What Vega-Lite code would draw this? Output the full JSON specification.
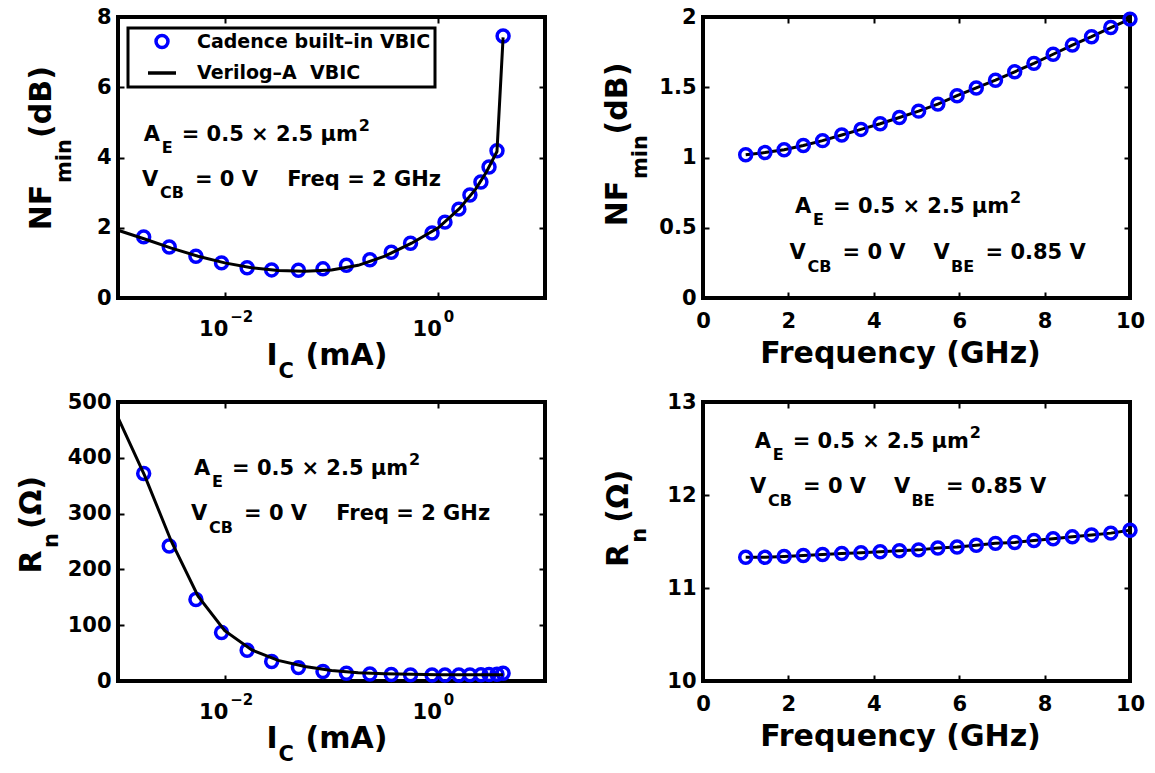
{
  "$schema": "https://vega.github.io/schema/vega-lite/v6.json",
  "autosize": {"type": "none"},
  "padding": {"left": 118, "top": 17, "right": 1037, "bottom": 756},
  "background": "white",
  "columns": 2,
  "spacing": {"row": 104, "column": 158},
  "bounds": "flush",
  "config": {
    "view": {"stroke": "#000000", "strokeWidth": 4},
    "axis": {
      "grid": false, "domain": false,
      "labelFont": "DejaVu Sans", "labelFontWeight": "bold", "labelFontSize": 21, "labelColor": "#000000",
      "titleFont": "DejaVu Sans", "titleFontWeight": "bold", "titleFontSize": 30, "titleColor": "#000000",
      "tickColor": "#000000", "tickWidth": 2, "tickSize": -6,
      "titleBaseline": "alphabetic", "labelFlush": false, "labelOverlap": false
    },
    "axisX": {"labelPadding": 18, "titleAngle": 0},
    "axisY": {"labelPadding": 13, "titleAngle": 270, "titleAlign": "center"},
    "legend": {"strokeWidth": 3}
  },
  "concat": [
    {
      "width": 427, "height": 281,
      "data": {"values": [
        {"Ic": 0.00174, "NF": 1.74, "series": "Cadence built–in VBIC"},
        {"Ic": 0.00302, "NF": 1.45, "series": "Cadence built–in VBIC"},
        {"Ic": 0.00537, "NF": 1.19, "series": "Cadence built–in VBIC"},
        {"Ic": 0.00933, "NF": 1.00, "series": "Cadence built–in VBIC"},
        {"Ic": 0.0162, "NF": 0.86, "series": "Cadence built–in VBIC"},
        {"Ic": 0.0275, "NF": 0.80, "series": "Cadence built–in VBIC"},
        {"Ic": 0.049, "NF": 0.79, "series": "Cadence built–in VBIC"},
        {"Ic": 0.0832, "NF": 0.83, "series": "Cadence built–in VBIC"},
        {"Ic": 0.138, "NF": 0.93, "series": "Cadence built–in VBIC"},
        {"Ic": 0.229, "NF": 1.09, "series": "Cadence built–in VBIC"},
        {"Ic": 0.363, "NF": 1.30, "series": "Cadence built–in VBIC"},
        {"Ic": 0.55, "NF": 1.56, "series": "Cadence built–in VBIC"},
        {"Ic": 0.875, "NF": 1.85, "series": "Cadence built–in VBIC"},
        {"Ic": 1.156, "NF": 2.16, "series": "Cadence built–in VBIC"},
        {"Ic": 1.56, "NF": 2.53, "series": "Cadence built–in VBIC"},
        {"Ic": 1.98, "NF": 2.93, "series": "Cadence built–in VBIC"},
        {"Ic": 2.51, "NF": 3.30, "series": "Cadence built–in VBIC"},
        {"Ic": 2.99, "NF": 3.73, "series": "Cadence built–in VBIC"},
        {"Ic": 3.55, "NF": 4.19, "series": "Cadence built–in VBIC"},
        {"Ic": 4.05, "NF": 7.46, "series": "Cadence built–in VBIC"},
        {"Ic": 0.001, "NF": 1.93, "series": "Verilog–A\u00a0\u00a0VBIC"},
        {"Ic": 0.001778, "NF": 1.68, "series": "Verilog–A\u00a0\u00a0VBIC"},
        {"Ic": 0.003162, "NF": 1.42, "series": "Verilog–A\u00a0\u00a0VBIC"},
        {"Ic": 0.005623, "NF": 1.19, "series": "Verilog–A\u00a0\u00a0VBIC"},
        {"Ic": 0.01, "NF": 1.00, "series": "Verilog–A\u00a0\u00a0VBIC"},
        {"Ic": 0.01778, "NF": 0.86, "series": "Verilog–A\u00a0\u00a0VBIC"},
        {"Ic": 0.03162, "NF": 0.78, "series": "Verilog–A\u00a0\u00a0VBIC"},
        {"Ic": 0.05623, "NF": 0.76, "series": "Verilog–A\u00a0\u00a0VBIC"},
        {"Ic": 0.1, "NF": 0.80, "series": "Verilog–A\u00a0\u00a0VBIC"},
        {"Ic": 0.1778, "NF": 0.93, "series": "Verilog–A\u00a0\u00a0VBIC"},
        {"Ic": 0.3162, "NF": 1.19, "series": "Verilog–A\u00a0\u00a0VBIC"},
        {"Ic": 0.5623, "NF": 1.56, "series": "Verilog–A\u00a0\u00a0VBIC"},
        {"Ic": 1.0, "NF": 2.00, "series": "Verilog–A\u00a0\u00a0VBIC"},
        {"Ic": 1.585, "NF": 2.55, "series": "Verilog–A\u00a0\u00a0VBIC"},
        {"Ic": 2.239, "NF": 3.10, "series": "Verilog–A\u00a0\u00a0VBIC"},
        {"Ic": 2.818, "NF": 3.58, "series": "Verilog–A\u00a0\u00a0VBIC"},
        {"Ic": 3.548, "NF": 4.17, "series": "Verilog–A\u00a0\u00a0VBIC"},
        {"Ic": 4.05, "NF": 7.42, "series": "Verilog–A\u00a0\u00a0VBIC"}
      ]},
      "resolve": {"axis": {"x": "independent", "y": "independent"}},
      "layer": [
        {
          "transform": [{"filter": {"field": "series", "equal": "Cadence built–in VBIC"}}],
          "mark": {"type": "point", "filled": false, "strokeWidth": 3.5, "opacity": 1},
          "encoding": {
            "x": {"field": "Ic", "type": "quantitative", "scale": {"type": "log", "domain": [0.001, 10]},
                  "axis": {"orient": "bottom", "values": [0.01, 1], "labelExpr": "'10'", "labelAlign": "right", "labelOffset": 3, "labelPadding": 26,
                           "title": "I", "titleX": 148, "titleY": 66, "titleAlign": "left"}},
            "y": {"field": "NF", "type": "quantitative", "scale": {"domain": [0, 8], "nice": false},
                  "axis": {"orient": "left", "values": [0, 2, 4, 6, 8], "title": "NF", "titleX": -68, "titleY": 190}},
            "color": {"field": "series", "type": "nominal",
                      "scale": {"domain": ["Cadence built–in VBIC", "Verilog–A\u00a0\u00a0VBIC"], "range": ["#0000ff", "#000000"]},
                      "legend": {"title": null, "orient": "none", "legendX": 10, "legendY": 11, "padding": 4, "symbolOffset": 14, "labelOffset": 19, "rowPadding": 2, "labelLimit": 500,
                                 "strokeColor": "#000000", "fillColor": "#ffffff", "labelFont": "DejaVu Sans", "labelFontWeight": "bold", "labelFontSize": 19, "labelColor": "#000000", "symbolStrokeWidth": 3.5}},
            "shape": {"field": "series", "type": "nominal",
                      "scale": {"domain": ["Cadence built–in VBIC", "Verilog–A\u00a0\u00a0VBIC"], "range": ["circle", "stroke"]},
                      "legend": {"title": null, "orient": "none", "legendX": 10, "legendY": 11, "padding": 4, "symbolOffset": 14, "labelOffset": 19, "rowPadding": 2, "labelLimit": 500,
                                 "strokeColor": "#000000", "fillColor": "#ffffff", "labelFont": "DejaVu Sans", "labelFontWeight": "bold", "labelFontSize": 19, "labelColor": "#000000", "symbolStrokeWidth": 3.5}},
            "size": {"field": "series", "type": "nominal",
                     "scale": {"domain": ["Cadence built–in VBIC", "Verilog–A\u00a0\u00a0VBIC"], "range": [143, 784]},
                     "legend": {"title": null, "orient": "none", "legendX": 10, "legendY": 11, "padding": 4, "symbolOffset": 14, "labelOffset": 19, "rowPadding": 2, "labelLimit": 500,
                                "strokeColor": "#000000", "fillColor": "#ffffff", "labelFont": "DejaVu Sans", "labelFontWeight": "bold", "labelFontSize": 19, "labelColor": "#000000", "symbolStrokeWidth": 3.5}}
          }
        },
        {
          "transform": [{"filter": {"field": "series", "equal": "Verilog–A\u00a0\u00a0VBIC"}}],
          "mark": {"type": "line", "strokeWidth": 3},
          "encoding": {
            "x": {"field": "Ic", "type": "quantitative", "scale": {"type": "log", "domain": [0.001, 10]},
                  "axis": {"orient": "bottom", "ticks": false, "values": [0.01, 1], "labelExpr": "datum.value < 0.1 ? '−2' : '0'", "labelFontSize": 15, "labelAlign": "left", "labelOffset": 5, "labelPadding": 11,
                           "title": "C", "titleFontSize": 21, "titleX": 160, "titleY": 79.5, "titleAlign": "left"}},
            "y": {"field": "NF", "type": "quantitative",
                  "axis": {"orient": "left", "labels": false, "ticks": false, "title": "min", "titleFontSize": 21, "titleX": -48, "titleY": 143.5}},
            "color": {"field": "series", "type": "nominal",
                      "scale": {"domain": ["Cadence built–in VBIC", "Verilog–A\u00a0\u00a0VBIC"], "range": ["#0000ff", "#000000"]},
                      "legend": {"title": null, "orient": "none", "legendX": 10, "legendY": 11, "padding": 4, "symbolOffset": 14, "labelOffset": 19, "rowPadding": 2, "labelLimit": 500,
                                 "strokeColor": "#000000", "fillColor": "#ffffff", "labelFont": "DejaVu Sans", "labelFontWeight": "bold", "labelFontSize": 19, "labelColor": "#000000", "symbolStrokeWidth": 3.5}}
          }
        },
        {
          "data": {"values": [
            {"x": 0.00174, "y": 4.47, "t": "A"},
            {"x": 0.003951, "y": 4.47, "t": "= 0.5 × 2.5 μm"},
            {"x": 0.001675, "y": 3.19, "t": "V"},
            {"x": 0.005253, "y": 3.19, "t": "= 0 V\u00a0\u00a0\u00a0\u00a0Freq = 2 GHz"}
          ]},
          "mark": {"type": "text", "align": "left", "baseline": "alphabetic", "font": "DejaVu Sans", "fontWeight": "bold", "fontSize": 21, "color": "#000000"},
          "encoding": {
            "x": {"field": "x", "type": "quantitative", "scale": {"type": "log", "domain": [0.001, 10]},
                  "axis": {"orient": "bottom", "labels": false, "ticks": false, "title": "(mA)", "titleX": 187, "titleY": 66, "titleAlign": "left"}},
            "y": {"field": "y", "type": "quantitative",
                  "axis": {"orient": "left", "labels": false, "ticks": false, "title": "(dB)", "titleX": -68, "titleY": 84.5}},
            "text": {"field": "t"}
          }
        },
        {
          "data": {"values": [
            {"x": 0.002567, "y": 4.128, "t": "E"},
            {"x": 0.1798, "y": 4.754, "t": "2"},
            {"x": 0.002469, "y": 2.836, "t": "CB"}
          ]},
          "mark": {"type": "text", "align": "left", "baseline": "alphabetic", "font": "DejaVu Sans", "fontWeight": "bold", "fontSize": 16, "color": "#000000"},
          "encoding": {
            "x": {"field": "x", "type": "quantitative", "scale": {"type": "log", "domain": [0.001, 10]},
                  "axis": {"orient": "top", "labels": false, "values": [0.01, 1], "title": null}},
            "y": {"field": "y", "type": "quantitative",
                  "axis": {"orient": "right", "labels": false, "values": [0, 2, 4, 6, 8], "title": null}},
            "text": {"field": "t"}
          }
        }
      ]
    },
    {
      "width": 427, "height": 281,
      "data": {"values": [
        {"f": 1.0, "NF": 1.02}, {"f": 1.45, "NF": 1.035}, {"f": 1.9, "NF": 1.055}, {"f": 2.35, "NF": 1.085},
        {"f": 2.8, "NF": 1.12}, {"f": 3.25, "NF": 1.16}, {"f": 3.7, "NF": 1.2}, {"f": 4.15, "NF": 1.24},
        {"f": 4.6, "NF": 1.285}, {"f": 5.05, "NF": 1.33}, {"f": 5.5, "NF": 1.38}, {"f": 5.95, "NF": 1.44},
        {"f": 6.4, "NF": 1.495}, {"f": 6.85, "NF": 1.55}, {"f": 7.3, "NF": 1.61}, {"f": 7.75, "NF": 1.67},
        {"f": 8.2, "NF": 1.735}, {"f": 8.65, "NF": 1.8}, {"f": 9.1, "NF": 1.86}, {"f": 9.55, "NF": 1.925},
        {"f": 10.0, "NF": 1.985}
      ]},
      "resolve": {"axis": {"x": "independent", "y": "independent"}},
      "layer": [
        {
          "mark": {"type": "line", "color": "#000000", "strokeWidth": 3},
          "encoding": {
            "x": {"field": "f", "type": "quantitative", "scale": {"domain": [0, 10], "nice": false},
                  "axis": {"orient": "bottom", "values": [0, 2, 4, 6, 8, 10], "title": "Frequency (GHz)", "titleX": 197, "titleY": 64, "titleAlign": "center"}},
            "y": {"field": "NF", "type": "quantitative", "scale": {"domain": [0, 2], "nice": false},
                  "axis": {"orient": "left", "values": [0, 0.5, 1, 1.5, 2], "format": "~g", "title": "NF", "titleX": -77, "titleY": 186}}
          }
        },
        {
          "mark": {"type": "point", "filled": false, "color": "#0000ff", "strokeWidth": 3.5, "size": 143, "opacity": 1},
          "encoding": {
            "x": {"field": "f", "type": "quantitative",
                  "axis": {"orient": "top", "labels": false, "values": [0, 2, 4, 6, 8, 10], "title": null}},
            "y": {"field": "NF", "type": "quantitative",
                  "axis": {"orient": "left", "labels": false, "ticks": false, "title": "min", "titleFontSize": 21, "titleX": -57, "titleY": 139.5}}
          }
        },
        {
          "data": {"values": [
            {"x": 2.155, "y": 0.607, "t": "A"},
            {"x": 3.044, "y": 0.607, "t": "= 0.5 × 2.5 μm"},
            {"x": 2.026, "y": 0.276, "t": "V"},
            {"x": 3.267, "y": 0.276, "t": "= 0 V"},
            {"x": 5.398, "y": 0.276, "t": "V"},
            {"x": 6.616, "y": 0.276, "t": "= 0.85 V"}
          ]},
          "mark": {"type": "text", "align": "left", "baseline": "alphabetic", "font": "DejaVu Sans", "fontWeight": "bold", "fontSize": 21, "color": "#000000"},
          "encoding": {
            "x": {"field": "x", "type": "quantitative", "axis": null},
            "y": {"field": "y", "type": "quantitative",
                  "axis": {"orient": "left", "labels": false, "ticks": false, "title": "(dB)", "titleX": -77, "titleY": 81}},
            "text": {"field": "t"}
          }
        },
        {
          "data": {"values": [
            {"x": 2.576, "y": 0.522, "t": "E"},
            {"x": 7.19, "y": 0.678, "t": "2"},
            {"x": 2.447, "y": 0.187, "t": "CB"},
            {"x": 5.808, "y": 0.187, "t": "BE"}
          ]},
          "mark": {"type": "text", "align": "left", "baseline": "alphabetic", "font": "DejaVu Sans", "fontWeight": "bold", "fontSize": 16, "color": "#000000"},
          "encoding": {
            "x": {"field": "x", "type": "quantitative", "axis": null},
            "y": {"field": "y", "type": "quantitative",
                  "axis": {"orient": "right", "labels": false, "values": [0, 0.5, 1, 1.5, 2], "title": null}},
            "text": {"field": "t"}
          }
        }
      ]
    },
    {
      "width": 427, "height": 279,
      "data": {"values": [
        {"Ic": 0.00174, "Rn": 372, "series": "Cadence built–in VBIC"},
        {"Ic": 0.00302, "Rn": 242, "series": "Cadence built–in VBIC"},
        {"Ic": 0.00537, "Rn": 146, "series": "Cadence built–in VBIC"},
        {"Ic": 0.00933, "Rn": 87, "series": "Cadence built–in VBIC"},
        {"Ic": 0.0162, "Rn": 55, "series": "Cadence built–in VBIC"},
        {"Ic": 0.0275, "Rn": 35, "series": "Cadence built–in VBIC"},
        {"Ic": 0.049, "Rn": 24, "series": "Cadence built–in VBIC"},
        {"Ic": 0.0832, "Rn": 17, "series": "Cadence built–in VBIC"},
        {"Ic": 0.138, "Rn": 14, "series": "Cadence built–in VBIC"},
        {"Ic": 0.229, "Rn": 12.5, "series": "Cadence built–in VBIC"},
        {"Ic": 0.363, "Rn": 11.5, "series": "Cadence built–in VBIC"},
        {"Ic": 0.55, "Rn": 11, "series": "Cadence built–in VBIC"},
        {"Ic": 0.875, "Rn": 10.8, "series": "Cadence built–in VBIC"},
        {"Ic": 1.156, "Rn": 10.8, "series": "Cadence built–in VBIC"},
        {"Ic": 1.56, "Rn": 10.8, "series": "Cadence built–in VBIC"},
        {"Ic": 1.98, "Rn": 11, "series": "Cadence built–in VBIC"},
        {"Ic": 2.51, "Rn": 11.2, "series": "Cadence built–in VBIC"},
        {"Ic": 2.99, "Rn": 11.5, "series": "Cadence built–in VBIC"},
        {"Ic": 3.55, "Rn": 12, "series": "Cadence built–in VBIC"},
        {"Ic": 4.05, "Rn": 14, "series": "Cadence built–in VBIC"},
        {"Ic": 0.001, "Rn": 472, "series": "Verilog–A\u00a0\u00a0VBIC"},
        {"Ic": 0.001778, "Rn": 368, "series": "Verilog–A\u00a0\u00a0VBIC"},
        {"Ic": 0.003162, "Rn": 250, "series": "Verilog–A\u00a0\u00a0VBIC"},
        {"Ic": 0.005623, "Rn": 152, "series": "Verilog–A\u00a0\u00a0VBIC"},
        {"Ic": 0.01, "Rn": 90, "series": "Verilog–A\u00a0\u00a0VBIC"},
        {"Ic": 0.01778, "Rn": 56, "series": "Verilog–A\u00a0\u00a0VBIC"},
        {"Ic": 0.03162, "Rn": 37, "series": "Verilog–A\u00a0\u00a0VBIC"},
        {"Ic": 0.05623, "Rn": 26, "series": "Verilog–A\u00a0\u00a0VBIC"},
        {"Ic": 0.1, "Rn": 19, "series": "Verilog–A\u00a0\u00a0VBIC"},
        {"Ic": 0.1778, "Rn": 15, "series": "Verilog–A\u00a0\u00a0VBIC"},
        {"Ic": 0.3162, "Rn": 13, "series": "Verilog–A\u00a0\u00a0VBIC"},
        {"Ic": 0.5623, "Rn": 12, "series": "Verilog–A\u00a0\u00a0VBIC"},
        {"Ic": 1.0, "Rn": 11.3, "series": "Verilog–A\u00a0\u00a0VBIC"},
        {"Ic": 1.585, "Rn": 11, "series": "Verilog–A\u00a0\u00a0VBIC"},
        {"Ic": 2.239, "Rn": 11, "series": "Verilog–A\u00a0\u00a0VBIC"},
        {"Ic": 2.818, "Rn": 11, "series": "Verilog–A\u00a0\u00a0VBIC"},
        {"Ic": 3.548, "Rn": 11, "series": "Verilog–A\u00a0\u00a0VBIC"},
        {"Ic": 4.05, "Rn": 11, "series": "Verilog–A\u00a0\u00a0VBIC"}
      ]},
      "resolve": {"axis": {"x": "independent", "y": "independent"}},
      "layer": [
        {
          "transform": [{"filter": {"field": "series", "equal": "Cadence built–in VBIC"}}],
          "mark": {"type": "point", "filled": false, "color": "#0000ff", "strokeWidth": 3.5, "size": 143, "opacity": 1},
          "encoding": {
            "x": {"field": "Ic", "type": "quantitative", "scale": {"type": "log", "domain": [0.001, 10]},
                  "axis": {"orient": "bottom", "values": [0.01, 1], "labelExpr": "'10'", "labelAlign": "right", "labelOffset": 3, "labelPadding": 26,
                           "title": "I", "titleX": 148, "titleY": 66, "titleAlign": "left"}},
            "y": {"field": "Rn", "type": "quantitative", "scale": {"domain": [0, 500], "nice": false},
                  "axis": {"orient": "left", "values": [0, 100, 200, 300, 400, 500], "title": "R", "titleX": -78, "titleY": 159.5}}
          }
        },
        {
          "transform": [{"filter": {"field": "series", "equal": "Verilog–A\u00a0\u00a0VBIC"}}],
          "mark": {"type": "line", "color": "#000000", "strokeWidth": 3},
          "encoding": {
            "x": {"field": "Ic", "type": "quantitative", "scale": {"type": "log", "domain": [0.001, 10]},
                  "axis": {"orient": "bottom", "ticks": false, "values": [0.01, 1], "labelExpr": "datum.value < 0.1 ? '−2' : '0'", "labelFontSize": 15, "labelAlign": "left", "labelOffset": 5, "labelPadding": 11,
                           "title": "C", "titleFontSize": 21, "titleX": 160, "titleY": 79.5, "titleAlign": "left"}},
            "y": {"field": "Rn", "type": "quantitative",
                  "axis": {"orient": "left", "labels": false, "ticks": false, "title": "n", "titleFontSize": 21, "titleX": -61, "titleY": 138}}
          }
        },
        {
          "data": {"values": [
            {"x": 0.005152, "y": 369, "t": "A"},
            {"x": 0.011689, "y": 369, "t": "= 0.5 × 2.5 μm"},
            {"x": 0.004828, "y": 288.5, "t": "V"},
            {"x": 0.015148, "y": 288.5, "t": "= 0 V\u00a0\u00a0\u00a0\u00a0Freq = 2 GHz"}
          ]},
          "mark": {"type": "text", "align": "left", "baseline": "alphabetic", "font": "DejaVu Sans", "fontWeight": "bold", "fontSize": 21, "color": "#000000"},
          "encoding": {
            "x": {"field": "x", "type": "quantitative", "scale": {"type": "log", "domain": [0.001, 10]},
                  "axis": {"orient": "bottom", "labels": false, "ticks": false, "title": "(mA)", "titleX": 187, "titleY": 66, "titleAlign": "left"}},
            "y": {"field": "y", "type": "quantitative",
                  "axis": {"orient": "left", "labels": false, "ticks": false, "title": "(Ω)", "titleX": -78, "titleY": 100}},
            "text": {"field": "t"}
          }
        },
        {
          "data": {"values": [
            {"x": 0.007595, "y": 347.5, "t": "E"},
            {"x": 0.5321, "y": 386.9, "t": "2"},
            {"x": 0.007119, "y": 266.1, "t": "CB"}
          ]},
          "mark": {"type": "text", "align": "left", "baseline": "alphabetic", "font": "DejaVu Sans", "fontWeight": "bold", "fontSize": 16, "color": "#000000"},
          "encoding": {
            "x": {"field": "x", "type": "quantitative", "scale": {"type": "log", "domain": [0.001, 10]},
                  "axis": {"orient": "top", "labels": false, "values": [0.01, 1], "title": null}},
            "y": {"field": "y", "type": "quantitative",
                  "axis": {"orient": "right", "labels": false, "values": [0, 100, 200, 300, 400, 500], "title": null}},
            "text": {"field": "t"}
          }
        }
      ]
    },
    {
      "width": 427, "height": 279,
      "data": {"values": [
        {"f": 1.0, "Rn": 11.33}, {"f": 1.45, "Rn": 11.33}, {"f": 1.9, "Rn": 11.34}, {"f": 2.35, "Rn": 11.35},
        {"f": 2.8, "Rn": 11.36}, {"f": 3.25, "Rn": 11.37}, {"f": 3.7, "Rn": 11.38}, {"f": 4.15, "Rn": 11.39},
        {"f": 4.6, "Rn": 11.4}, {"f": 5.05, "Rn": 11.41}, {"f": 5.5, "Rn": 11.43}, {"f": 5.95, "Rn": 11.44},
        {"f": 6.4, "Rn": 11.46}, {"f": 6.85, "Rn": 11.48}, {"f": 7.3, "Rn": 11.49}, {"f": 7.75, "Rn": 11.51},
        {"f": 8.2, "Rn": 11.53}, {"f": 8.65, "Rn": 11.55}, {"f": 9.1, "Rn": 11.57}, {"f": 9.55, "Rn": 11.59},
        {"f": 10.0, "Rn": 11.62}
      ]},
      "resolve": {"axis": {"x": "independent", "y": "independent"}},
      "layer": [
        {
          "mark": {"type": "line", "color": "#000000", "strokeWidth": 3},
          "encoding": {
            "x": {"field": "f", "type": "quantitative", "scale": {"domain": [0, 10], "nice": false},
                  "axis": {"orient": "bottom", "values": [0, 2, 4, 6, 8, 10], "title": "Frequency (GHz)", "titleX": 197, "titleY": 64, "titleAlign": "center"}},
            "y": {"field": "Rn", "type": "quantitative", "scale": {"domain": [10, 13], "nice": false, "zero": false},
                  "axis": {"orient": "left", "values": [10, 11, 12, 13], "title": "R", "titleX": -76, "titleY": 153}}
          }
        },
        {
          "mark": {"type": "point", "filled": false, "color": "#0000ff", "strokeWidth": 3.5, "size": 143, "opacity": 1},
          "encoding": {
            "x": {"field": "f", "type": "quantitative",
                  "axis": {"orient": "top", "labels": false, "values": [0, 2, 4, 6, 8, 10], "title": null}},
            "y": {"field": "Rn", "type": "quantitative",
                  "axis": {"orient": "left", "labels": false, "ticks": false, "title": "n", "titleFontSize": 21, "titleX": -58, "titleY": 132.7}}
          }
        },
        {
          "data": {"values": [
            {"x": 1.21, "y": 12.509, "t": "A"},
            {"x": 2.101, "y": 12.509, "t": "= 0.5 × 2.5 μm"},
            {"x": 1.1, "y": 12.018, "t": "V"},
            {"x": 2.342, "y": 12.018, "t": "= 0 V"},
            {"x": 4.473, "y": 12.018, "t": "V"},
            {"x": 5.691, "y": 12.018, "t": "= 0.85 V"}
          ]},
          "mark": {"type": "text", "align": "left", "baseline": "alphabetic", "font": "DejaVu Sans", "fontWeight": "bold", "fontSize": 21, "color": "#000000"},
          "encoding": {
            "x": {"field": "x", "type": "quantitative", "axis": null},
            "y": {"field": "y", "type": "quantitative",
                  "axis": {"orient": "left", "labels": false, "ticks": false, "title": "(Ω)", "titleX": -76, "titleY": 93.8}},
            "text": {"field": "t"}
          }
        },
        {
          "data": {"values": [
            {"x": 1.632, "y": 12.38, "t": "E"},
            {"x": 6.246, "y": 12.616, "t": "2"},
            {"x": 1.522, "y": 11.884, "t": "CB"},
            {"x": 4.883, "y": 11.884, "t": "BE"}
          ]},
          "mark": {"type": "text", "align": "left", "baseline": "alphabetic", "font": "DejaVu Sans", "fontWeight": "bold", "fontSize": 16, "color": "#000000"},
          "encoding": {
            "x": {"field": "x", "type": "quantitative", "axis": null},
            "y": {"field": "y", "type": "quantitative",
                  "axis": {"orient": "right", "labels": false, "values": [10, 11, 12, 13], "title": null}},
            "text": {"field": "t"}
          }
        }
      ]
    }
  ]
}
